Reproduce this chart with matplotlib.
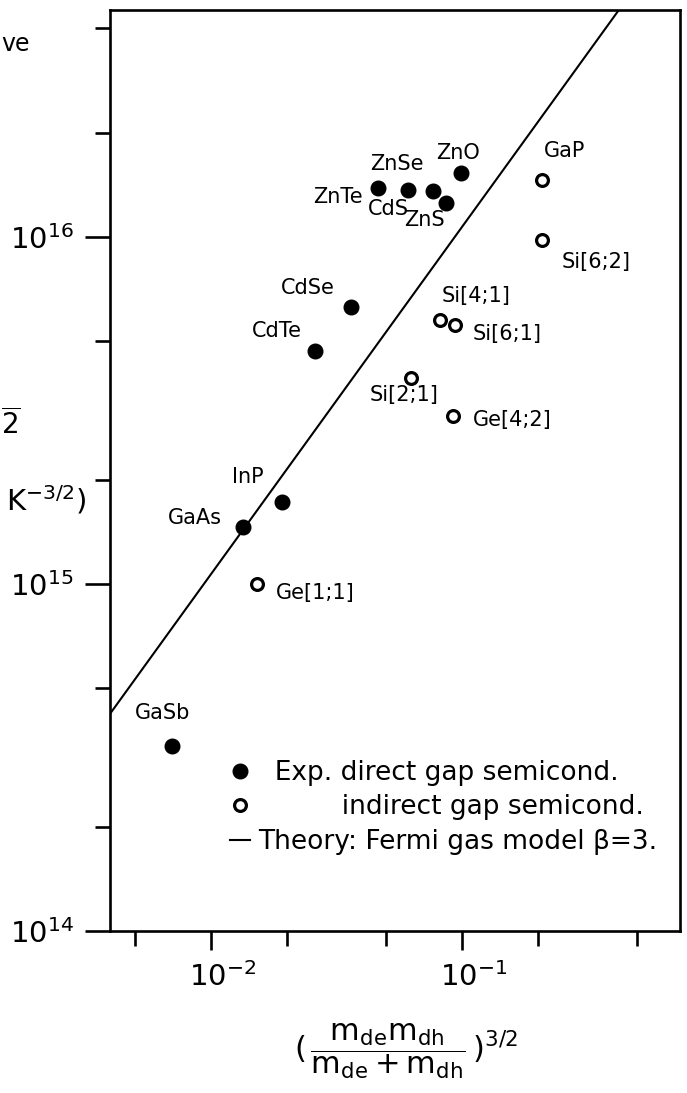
import matplotlib
matplotlib.use('Agg')
import matplotlib.pyplot as plt
import matplotlib.transforms as mtransforms
from matplotlib.lines import Line2D
from matplotlib.ticker import FixedLocator, NullFormatter

# ---------------- data ----------------
direct_names = ['ZnTe', 'CdS', 'ZnSe', 'ZnS', 'ZnO', 'CdSe', 'CdTe', 'InP', 'GaAs', 'GaSb']
direct_x = [0.0463, 0.0609, 0.0766, 0.0864, 0.0991, 0.0361, 0.0260, 0.0192, 0.0134, 0.0070]
direct_y = [1.38e16, 1.37e16, 1.36e16, 1.25e16, 1.53e16, 6.28e15, 4.69e15, 1.72e15, 1.46e15, 3.41e14]

indirect_names = ['GaP', 'Si[6;2]', 'Si[4;1]', 'Si[6;1]', 'Si[2;1]', 'Ge[4;2]', 'Ge[1;1]']
indirect_x = [0.208, 0.208, 0.0817, 0.0938, 0.0626, 0.0921, 0.0153]
indirect_y = [1.46e16, 0.98e16, 5.76e15, 5.58e15, 3.92e15, 3.05e15, 1.0e15]

theory_x = [0.003, 1.0]
theory_y = [3.2e14, 1.07e17]

x_major = [1e-2, 1e-1]
x_major_labels = [r'$10^{-2}$', r'$10^{-1}$']
x_minor = [5e-3, 2e-2, 5e-2, 2e-1, 5e-1]
y_major = [1e14, 1e15, 1e16]
y_major_labels = [r'$10^{14}$', r'$10^{15}$', r'$10^{16}$']
y_minor = [2e14, 5e14, 2e15, 5e15, 2e16, 4e16]

legend_labels = ['  Exp. direct gap semicond.',
                 '          indirect gap semicond.',
                 'Theory: Fermi gas model \u03b2=3.']

# label offsets in pixels (dx right, dy up) relative to their point
label_offsets = {
    'ZnTe': (-40, -9), 'CdS': (-20, -19), 'ZnSe': (-36, 27), 'ZnS': (-22, -17),
    'ZnO': (-3, 20), 'CdSe': (-43, 19), 'CdTe': (-38, 20), 'InP': (-34, 25),
    'GaAs': (-48, 9), 'GaSb': (-10, 33),
    'GaP': (23, 29), 'Si[6;2]': (54, -22), 'Si[4;1]': (36, 24), 'Si[6;1]': (52, -9),
    'Si[2;1]': (-7, -17), 'Ge[4;2]': (59, -4), 'Ge[1;1]': (58, -9),
}

# ---------------- figure ----------------
plt.rcParams['font.family'] = ['DejaVu Sans']
plt.rcParams['mathtext.fontset'] = 'dejavusans'

W, H = 687, 1093
fig = plt.figure(figsize=(W / 100, H / 100), dpi=100)
L, R, T, B = 110, 680, 10, 931
ax = fig.add_axes([L / W, (H - B) / H, (R - L) / W, (B - T) / H])
ax.set_xscale('log')
ax.set_yscale('log')
ax.set_xlim(0.00396, 0.739)
ax.set_ylim(1e14, 4.51e16)

for s in ax.spines.values():
    s.set_linewidth(1.9)

ax.plot(theory_x, theory_y, color='black', lw=1.5, zorder=2)
ax.plot(direct_x, direct_y, 'o', color='black', ms=10.5, zorder=3, linestyle='none')
ax.plot(indirect_x, indirect_y, 'o', mfc='white', mec='black', mew=2.3, ms=8.5,
        zorder=3, linestyle='none')

for names, xs, ys in ((direct_names, direct_x, direct_y),
                      (indirect_names, indirect_x, indirect_y)):
    for n, x, y in zip(names, xs, ys):
        dx, dy = label_offsets[n]
        ax.annotate(n, (x, y), xytext=(dx, dy), textcoords='offset pixels',
                    ha='center', va='center', fontsize=15)

# ticks
ax.xaxis.set_major_locator(FixedLocator(x_major))
ax.set_xticklabels(x_major_labels)
ax.xaxis.set_minor_locator(FixedLocator(x_minor))
ax.xaxis.set_minor_formatter(NullFormatter())
ax.yaxis.set_major_locator(FixedLocator(y_major))
ax.set_yticklabels(y_major_labels)
ax.yaxis.set_minor_locator(FixedLocator(y_minor))
ax.yaxis.set_minor_formatter(NullFormatter())

ax.tick_params(axis='x', which='major', direction='out', length=13.5, width=1.9,
               labelsize=21, pad=9)
ax.tick_params(axis='x', which='minor', direction='out', length=10.5, width=1.9)
ax.tick_params(axis='y', which='major', direction='out', length=18, width=1.9,
               labelsize=21, pad=8)
ax.tick_params(axis='y', which='minor', direction='out', length=10.5, width=1.9)

off = mtransforms.ScaledTranslation(12 / 100, 0, fig.dpi_scale_trans)
for lab in ax.get_xticklabels():
    lab.set_transform(lab.get_transform() + off)

# legend
handles = [
    Line2D([], [], marker='o', color='black', ms=10.5, linestyle='none'),
    Line2D([], [], marker='o', mfc='white', mec='black', mew=2.3, ms=8.5, linestyle='none'),
    Line2D([], [], color='black', lw=1.5),
]
leg = ax.legend(handles, legend_labels, loc='upper left',
                bbox_to_anchor=((230 - L) / (R - L), (B - 760) / (B - T)),
                frameon=False, fontsize=19, handlelength=0.76, handletextpad=0.3,
                labelspacing=0.32, borderpad=0, borderaxespad=0)

# x label
fig.text(406 / W, (H - 1051) / H,
         r'$(\,\dfrac{\mathrm{m}_{\mathrm{de}}\mathrm{m}_{\mathrm{dh}}}'
         r'{\mathrm{m}_{\mathrm{de}}+\mathrm{m}_{\mathrm{dh}}}\,)^{3/2}$',
         ha='center', va='center', fontsize=22)

# visible fragments of the (cropped) y label
fig.text(1 / W, (H - 44) / H, 've', ha='left', va='center', fontsize=17)
fig.text(1 / W, (H - 424) / H, r'$\overline{2}$', ha='left', va='center', fontsize=20)
fig.text(86 / W, (H - 500) / H, r'K$^{-3/2}$)', ha='right', va='center', fontsize=21)

fig.savefig('out.png', dpi=100)
